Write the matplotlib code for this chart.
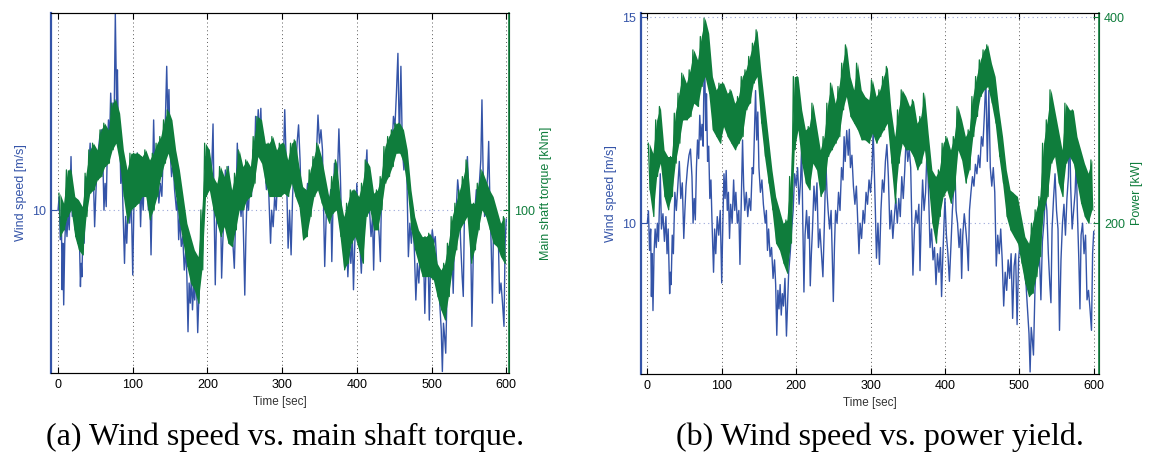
import numpy as np
import matplotlib.pyplot as plt

# wind speed [m/s] (same record in both panels)
wind_t = [0, 1.5, 3, 4.5, 5.5, 6.5, 7.6, 9, 10.5, 12, 13.5, 15, 17.4, 19, 21, 23, 25, 26.5, 28, 30,
          31, 32, 33.5, 35, 37, 39, 41, 43, 45, 47, 49, 50.5, 52, 54, 56, 58, 60, 61.5, 63, 64.5,
          66, 67.5, 69, 70.5, 72, 73.5, 75, 76.7, 78.5, 79.5, 81, 82.5, 84, 85.5, 87, 89, 90.5, 92, 94, 96, 98,
          100, 101.5, 103, 104.5, 106, 107.5, 109, 110.5, 112, 114, 116, 117.5, 119, 121, 123, 124.5, 126, 128, 129.5, 131,
          133, 135, 137, 139, 141, 142.5, 144, 145.5, 147, 148.5, 150, 152, 154, 156, 158.5, 160, 161.5, 163, 165, 167,
          169, 171, 172.5, 174, 175.5, 177, 178.5, 180, 181.5, 183, 185, 187, 188.5, 190, 192, 194, 196, 198,
          200, 202, 204, 206, 207.5, 209, 210.5, 212, 214, 216, 217.5, 219, 220.5, 222, 224, 226, 228, 230, 232, 234,
          236, 238, 240, 241.5, 243, 245, 247, 248.5, 250, 251.5, 253, 255, 257, 259, 261, 263, 264.5, 266, 268, 270,
          271.5, 273, 275, 277, 279, 281, 283, 284.5, 286, 288, 290, 292, 294, 296, 298,
          300, 302, 303.5, 305, 306.5, 308, 310, 312, 314, 316, 318, 320, 322, 324, 326, 328, 330, 332, 334, 336,
          338, 340, 342, 344, 346, 348, 350, 352, 354, 355.5, 357, 359, 361, 363, 365, 366.5, 368, 370, 372, 374,
          376, 378, 380, 382, 384, 386, 388, 390, 392, 394, 395.5, 397, 398.5,
          400, 402, 404, 406, 408, 410, 412, 413.5, 415, 417, 419, 421, 422.5, 424, 426, 428, 430, 431.5, 433, 435,
          437, 439, 441, 443, 445, 447, 449, 451, 453, 455, 457, 459, 461, 463, 465, 467, 469, 471, 473, 475,
          477, 479, 481, 483, 485, 487, 489, 491, 493, 495, 497, 499,
          501, 503, 505, 507, 509, 511, 513, 514.5, 516, 517.5, 519, 521, 523, 525, 527, 529, 531, 533, 535, 537,
          539, 541, 542.5, 544, 546, 548, 550, 552, 554, 556, 558, 560, 562, 564, 566, 567.5, 569, 571, 573, 575,
          576.5, 578, 580, 581.5, 583, 585, 587, 589, 591, 593, 595, 597, 598.5, 600]
wind_v = [10.0, 10.3, 9.34, 9.86, 8.22, 9.26, 7.88, 9.26, 9.86, 9.41, 10.0, 9.56, 11.2, 9.86, 10.23, 9.56, 10.16, 9.26, 9.86, 8.29,
          8.81, 8.51, 9.71, 9.26, 10.75, 10.31, 10.9, 11.5, 10.6, 10.98, 9.63, 10.31, 10.9, 11.35, 11.65, 11.8, 11.13, 10.0, 10.6, 10.08,
          11.35, 12.02, 11.57, 12.62, 12.02, 12.4, 11.87, 14.4, 12.25, 13.14, 11.5, 11.87, 10.6, 11.05, 10.0, 8.81, 9.86, 9.26, 10.16, 9.71, 10.31,
          8.55, 10.0, 11.2, 10.6, 11.28, 10.31, 10.75, 9.63, 10.46, 10.0, 11.05, 10.31, 10.75, 10.0, 10.31, 9.0, 10.31, 12.02, 10.9, 10.31,
          10.75, 10.16, 10.6, 10.31, 11.35, 11.2, 12.25, 13.22, 12.02, 12.7, 11.35, 10.75, 11.05, 10.46, 10.0, 10.31, 9.34, 9.86, 9.19, 9.41,
          8.66, 9.11, 8.51, 7.28, 8.37, 7.92, 8.51, 7.77, 8.29, 7.99, 8.66, 7.26, 8.07, 8.81, 9.26, 9.86, 10.31, 11.2,
          10.9, 11.35, 10.46, 11.05, 11.93, 10.0, 8.33, 9.71, 10.31, 9.63, 10.16, 8.48, 9.26, 9.86, 10.9, 10.31, 10.98, 9.41, 9.86, 9.26,
          8.7, 10.0, 11.5, 10.75, 10.31, 9.86, 10.31, 9.26, 8.1, 9.41, 10.31, 10.0, 10.75, 10.31, 11.35, 11.05, 12.1, 11.5, 12.25, 11.65,
          12.28, 11.35, 11.65, 10.9, 10.46, 10.9, 10.0, 9.26, 10.0, 9.63, 10.31, 10.0, 10.75, 10.46, 11.05,
          10.75, 11.28, 12.25, 11.35, 10.31, 9.15, 10.0, 9.0, 10.31, 11.05, 10.75, 11.5, 11.91, 11.13, 9.86, 10.31, 9.63, 10.16, 10.6, 10.0,
          10.6, 10.16, 11.13, 10.6, 11.28, 12.13, 11.5, 11.8, 11.35, 10.0, 8.74, 9.86, 10.31, 10.0, 10.46, 8.85, 10.0, 11.05, 10.31, 10.75,
          11.82, 10.75, 9.41, 9.86, 9.11, 9.41, 8.51, 9.26, 8.81, 9.41, 8.22, 9.11, 9.86,
          10.6, 9.71, 9.26, 8.59, 9.41, 10.31, 10.9, 11.35, 10.31, 10.0, 9.41, 9.86, 8.66, 9.71, 10.23, 9.86, 9.41, 8.85, 10.31, 10.75,
          11.13, 10.9, 11.43, 11.2, 11.65, 11.35, 12.1, 11.87, 12.62, 13.51, 11.5, 13.22, 11.35, 10.9, 11.35, 10.75, 8.96, 9.71, 9.26, 9.86,
          9.11, 7.99, 8.81, 8.37, 9.11, 8.66, 9.26, 7.69, 8.96, 9.26, 7.54, 9.11,
          9.56, 9.26, 9.41, 8.81, 8.51, 7.92, 7.32, 6.39, 7.47, 7.17, 6.8, 8.37, 9.19, 8.96, 9.26, 8.14, 9.56, 10.0, 10.68, 10.31,
          9.26, 8.51, 8.07, 9.86, 10.6, 11.2, 10.31, 9.86, 7.4, 9.11, 10.0, 10.46, 9.71, 10.6, 11.13, 12.47, 10.9, 9.86, 10.31, 10.75,
          11.54, 10.31, 9.11, 7.92, 9.71, 10.0, 9.26, 9.71, 8.14, 8.37, 7.92, 7.4, 9.26, 9.8]

# torque / power are very noisy: local peak and trough per 5 s window
torque_hi = [108.2, 103.4, 119.4, 119.4, 106.6, 105.0, 101.8, 117.8, 129.0, 132.2,
             129.0, 138.6, 141.8, 138.6, 151.4, 153.0, 146.6, 129.0, 119.4, 127.4,
             127.4, 127.4, 125.8, 129.0, 124.2, 127.4, 132.2, 135.4, 143.4, 148.2,
             143.4, 129.0, 119.4, 106.6, 93.8, 87.4, 81.0, 77.8, 100.2, 132.2,
             129.0, 116.2, 113.0, 121.0, 116.2, 121.0, 109.8, 117.8, 129.0, 121.0,
             124.2, 121.0, 135.4, 145.0, 143.4, 132.2, 132.2, 135.4, 129.0, 132.2,
             132.2, 124.2, 132.2, 133.8, 121.0, 111.4, 109.8, 119.4, 125.8, 132.2,
             125.8, 116.2, 106.6, 116.2, 124.2, 106.6, 97.0, 103.4, 109.8, 109.8,
             106.6, 113.0, 124.2, 121.0, 108.2, 109.8, 116.2, 130.6, 135.4, 138.6,
             141.8, 141.8, 138.6, 129.0, 109.8, 97.0, 90.6, 87.4, 87.4, 89.0,
             85.8, 74.6, 71.4, 74.6, 84.2, 97.0, 103.4, 109.8, 116.2, 124.2,
             103.4, 103.4, 113.0, 119.4, 114.6, 109.8, 106.6, 100.2, 93.8, 97.0]
torque_lo = [87.4, 90.6, 97.0, 100.2, 87.4, 81.0, 78.6, 97.0, 108.2, 109.8,
             114.6, 116.2, 121.0, 122.6, 129.0, 132.2, 122.6, 106.6, 93.8, 100.2,
             101.8, 103.4, 106.6, 106.6, 95.4, 100.2, 106.6, 116.2, 122.6, 127.4,
             119.4, 106.6, 93.8, 84.2, 73.0, 65.0, 61.8, 55.4, 71.4, 106.6,
             109.8, 100.2, 93.8, 87.4, 92.2, 84.2, 82.6, 90.6, 100.2, 100.2,
             105.0, 106.6, 113.0, 125.8, 122.6, 113.0, 106.6, 106.6, 106.6, 106.6,
             108.2, 106.6, 113.0, 106.6, 101.8, 85.8, 87.4, 97.0, 106.6, 109.8,
             103.4, 98.6, 93.8, 98.6, 100.2, 87.4, 71.4, 74.6, 84.2, 87.4,
             81.0, 74.6, 97.0, 100.2, 90.6, 90.6, 100.2, 113.0, 116.2, 121.0,
             127.4, 127.4, 122.6, 109.8, 90.6, 81.0, 74.6, 68.2, 68.2, 68.2,
             66.6, 58.6, 52.2, 47.4, 58.6, 71.4, 81.0, 90.6, 93.8, 97.0,
             74.6, 81.0, 90.6, 100.2, 97.0, 90.6, 84.2, 82.6, 77.8, 74.6]
power_hi = [277.7, 268.0, 300.4, 313.4, 271.3, 264.8, 264.8, 306.9, 326.3, 345.8,
            336.1, 349.0, 368.4, 358.7, 381.4, 399.2, 384.6, 342.5, 329.6, 336.1,
            336.1, 326.3, 329.6, 316.6, 323.1, 342.5, 349.0, 362.0, 374.9, 387.9,
            349.0, 316.6, 284.2, 251.8, 225.9, 213.0, 200.0, 203.2, 245.4, 342.5,
            342.5, 310.1, 290.7, 293.9, 316.6, 293.9, 271.3, 284.2, 316.6, 336.1,
            316.6, 332.8, 355.5, 373.3, 342.5, 329.6, 355.5, 329.6, 323.1, 319.9,
            339.3, 323.1, 329.6, 342.5, 352.3, 310.1, 284.2, 310.1, 329.6, 323.1,
            313.4, 319.9, 297.2, 303.7, 326.3, 287.5, 251.8, 245.4, 251.8, 277.7,
            284.2, 271.3, 284.2, 313.4, 300.4, 284.2, 290.7, 323.1, 342.5, 358.7,
            368.4, 373.3, 355.5, 342.5, 310.1, 284.2, 251.8, 232.4, 229.2, 225.9,
            206.5, 187.0, 180.6, 200.0, 213.0, 225.9, 277.7, 300.4, 329.6, 310.1,
            290.7, 271.3, 316.6, 310.1, 310.1, 284.2, 271.3, 258.3, 248.6, 261.5]
power_lo = [232.4, 206.5, 245.4, 258.3, 225.9, 213.0, 225.9, 258.3, 277.7, 300.4,
            300.4, 303.7, 316.6, 313.4, 332.8, 342.5, 326.3, 290.7, 284.2, 277.7,
            293.9, 284.2, 277.7, 271.3, 277.7, 284.2, 310.1, 316.6, 336.1, 342.5,
            297.2, 264.8, 238.9, 213.0, 180.6, 174.1, 161.1, 151.4, 180.6, 271.3,
            290.7, 258.3, 238.9, 232.4, 258.3, 251.8, 225.9, 232.4, 264.8, 271.3,
            277.7, 284.2, 310.1, 323.1, 303.7, 297.2, 290.7, 281.0, 281.0, 277.7,
            287.5, 277.7, 284.2, 290.7, 297.2, 258.3, 219.4, 258.3, 277.7, 271.3,
            271.3, 264.8, 251.8, 258.3, 271.3, 238.9, 200.0, 180.6, 206.5, 225.9,
            232.4, 219.4, 232.4, 271.3, 261.5, 238.9, 251.8, 284.2, 303.7, 323.1,
            329.6, 332.8, 316.6, 297.2, 264.8, 238.9, 206.5, 193.5, 187.0, 180.6,
            161.1, 141.7, 128.7, 132.0, 148.2, 167.6, 213.0, 225.9, 258.3, 264.8,
            238.9, 225.9, 258.3, 264.8, 258.3, 238.9, 219.4, 206.5, 200.0, 213.0]

time_ticks = [0, 100, 200, 300, 400, 500, 600]
captions = ["(a) Wind speed vs. main shaft torque.", "(b) Wind speed vs. power yield."]

BLUE = '#3454a8'
GREEN = '#0f7d3c'
TICKFONT = 'Liberation Sans'


def zigzag(hi, lo):
    # peak of each 5 s window at its start, trough half a window later
    t0 = np.arange(len(hi)) * 5.0 + 1.25
    t = np.column_stack([t0, t0 + 2.5]).ravel()
    y = np.column_stack([hi, lo]).ravel()
    return t0, t, y


def panel(ax, hi, lo, ylim_l, ylim_r, yt_l, yt_r, lab_r, xlim):
    ax.plot(wind_t, wind_v, color=BLUE, lw=1.0)
    ax.set_xlim(xlim)
    ax.set_ylim(ylim_l)
    ax.set_xticks(time_ticks)
    ax.set_yticks(yt_l)
    ax.grid(True, axis='x', ls=(0, (1, 3)), color='0.35', lw=0.7)
    ax.grid(True, axis='y', ls=(0, (1, 3)), color='#9aa6d8', lw=0.8)
    ax.tick_params(axis='x', direction='in', top=True, length=4, labelsize=9, pad=4)
    ax.tick_params(axis='y', direction='in', colors=BLUE, length=4, labelsize=9)
    for lab in ax.get_xticklabels() + ax.get_yticklabels():
        lab.set_fontfamily(TICKFONT)
    ax.set_xlabel('Time [sec]', fontsize=8.5, family=TICKFONT, color='0.2', labelpad=4)
    ax.set_ylabel('Wind speed [m/s]', fontsize=9, family=TICKFONT, color=BLUE, labelpad=4)
    ax.spines['left'].set_color(BLUE)
    ax.spines['left'].set_linewidth(1.6)
    ax.spines['top'].set_color('0.2')
    ax.spines['bottom'].set_color('0.2')

    ax2 = ax.twinx()
    t0, zt, zy = zigzag(hi, lo)
    ax2.fill_between(t0 + 1.25, lo, hi, color=GREEN, lw=0)
    ax2.plot(zt, zy, color=GREEN, lw=0.9)
    ax2.set_ylim(ylim_r)
    ax2.set_yticks(yt_r)
    ax2.tick_params(axis='y', direction='in', colors=GREEN, length=4, labelsize=9)
    for lab in ax2.get_yticklabels():
        lab.set_fontfamily(TICKFONT)
    ax2.set_ylabel(lab_r, fontsize=9, family=TICKFONT, color=GREEN, labelpad=4)
    ax2.spines['right'].set_color(GREEN)
    ax2.spines['right'].set_linewidth(1.2)
    ax2.spines['left'].set_visible(False)
    return ax2


fig = plt.figure(figsize=(11.49, 4.61), dpi=100)
axa = fig.add_axes([51 / 1149, 87.7 / 461, 458 / 1149, 360.6 / 461])
axb = fig.add_axes([641 / 1149, 87.0 / 461, 458.3 / 1149, 361.3 / 461])

panel(axa, torque_hi, torque_lo, (6.35, 14.42), (21.8, 194.8), [10], [100],
      'Main shaft torque [kNm]', (-9.4, 603.7))
panel(axb, power_hi, power_lo, (6.34, 15.11), (53.5, 404.5), [10, 15], [200, 400],
      'Power [kW]', (-8.5, 607.5))

fig.text(0.248, 0.052, captions[0], ha='center', va='center', fontsize=23, family='Liberation Serif')
fig.text(0.766, 0.052, captions[1], ha='center', va='center', fontsize=23, family='Liberation Serif')

fig.savefig('out.png', dpi=100)
